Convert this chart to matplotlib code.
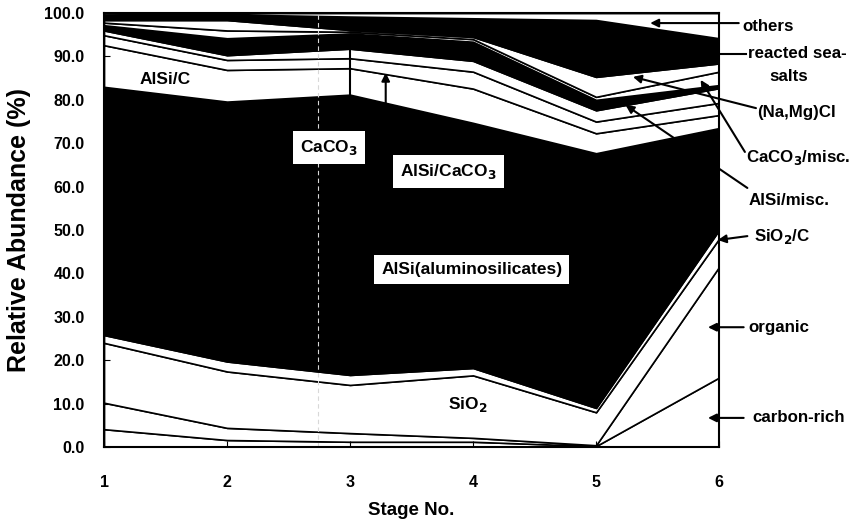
# Stacked relative abundance of particle classes by stage

import matplotlib.pyplot as plt
import numpy as np

plt.rcParams['font.family'] = ['Liberation Sans', 'DejaVu Sans']
plt.rcParams['font.weight'] = 'bold'

# ------ Data ------
stages = [1, 2, 3, 4, 5, 6]

# layer thickness (%), bottom to top
carbon_rich  = [4.1, 1.6, 1.2, 1.2, 0.2, 16.0]
organic      = [6.1, 2.8, 2.0, 0.9, 0.2, 25.5]
sio2         = [13.8, 13.0, 11.1, 14.4, 7.6, 6.5]
sio2_c       = [1.8, 2.3, 2.3, 1.7, 1.0, 2.0]
alsi         = [57.2, 59.9, 64.6, 56.5, 58.7, 23.5]
alsi_c       = [9.6, 7.3, 6.1, 7.9, 4.6, 3.0]
alsi_caco3   = [2.3, 2.3, 2.3, 3.9, 2.7, 2.8]
caco3        = [1.1, 1.1, 2.2, 2.5, 2.6, 3.4]
alsi_misc    = [1.2, 3.9, 3.5, 4.4, 2.4, 0.7]
caco3_misc   = [0.6, 1.8, 0.4, 0.6, 0.7, 3.1]
namgcl       = [0.6, 2.4, 0.4, 0.5, 4.6, 1.9]
reacted_salt = [1.2, 1.3, 3.1, 4.3, 13.1, 5.8]
others       = [0.4, 0.3, 0.8, 1.2, 1.6, 5.8]

layers = [carbon_rich, organic, sio2, sio2_c, alsi, alsi_c, alsi_caco3,
          caco3, alsi_misc, caco3_misc, namgcl, reacted_salt, others]
fills = ['white', 'white', 'white', 'white', 'black', 'white', 'white',
         'white', 'black', 'white', 'white', 'black', 'white']

ticks_y = np.arange(0, 101, 10)

fig = plt.figure(figsize=(8.54, 5.24), dpi=100)
ax = fig.add_axes([0.1218, 0.147, 0.7202, 0.828])

ax.stackplot(stages, *layers, colors=fills, edgecolor='black', linewidth=1.2)

# fold mark across the plot
ax.axvline(2.74, color='#d8d8d8', lw=0.8, ls=(0, (4, 3)))

ax.set_xlim(1, 6)
ax.set_ylim(0, 100)
ax.set_xticks(stages)
ax.set_yticks(ticks_y)
ax.set_yticklabels([f'{v:.1f}' for v in ticks_y])
ax.tick_params(axis='y', direction='in', length=4, pad=14, labelsize=11.5)
ax.tick_params(axis='x', direction='in', length=4, pad=20, labelsize=11.5)
for s in ax.spines.values():
    s.set_linewidth(1.5)

ax.set_xlabel('Stage No.', fontsize=13.5, fontweight='bold', labelpad=9)
ax.set_ylabel('Relative Abundance (%)', fontsize=18, fontweight='bold', labelpad=10)

# ------ labels inside the plot ------
box = dict(facecolor='white', edgecolor='none', pad=5)
ax.text(1.50, 84.8, 'AlSi/C', fontsize=12.5, ha='center', va='center')
ax.text(2.83, 69.1, 'CaCO$_\\mathbf{3}$', fontsize=12.5, ha='center', va='center', bbox=box)
ax.text(3.80, 63.4, 'AlSi/CaCO$_\\mathbf{3}$', fontsize=12.5, ha='center', va='center', bbox=box)
ax.text(3.99, 41.0, 'AlSi(aluminosilicates)', fontsize=12.5, ha='center', va='center', bbox=box)
ax.text(3.96, 9.7, 'SiO$_\\mathbf{2}$', fontsize=12.5, ha='center', va='center')

# pointers from the inside labels
ax.plot([3.0, 3.0], [73.0, 91.8], color='black', lw=1.5)
ax.annotate('', xy=(3.29, 86.9), xytext=(3.29, 66.5),
            arrowprops=dict(arrowstyle='-|>', color='black', lw=1.5, mutation_scale=12))

# ------ labels on the right ------
arrow = dict(arrowstyle='-|>', color='black', lw=1.5, mutation_scale=12,
             shrinkA=0, shrinkB=0)
right = [
    ('others',       (6.19, 96.8), (6.16, 97.7), (5.44, 97.7)),
    ('(Na,Mg)Cl',    (6.31, 77.2), (6.30, 78.1), (5.30, 85.3)),
    ('CaCO$_\\mathbf{3}$/misc.', (6.22, 66.8), (6.21, 68.0), (5.85, 84.6)),
    ('AlSi/misc.',   (6.24, 56.9), (6.23, 59.7), (5.24, 78.8)),
    ('SiO$_\\mathbf{2}$/C', (6.28, 48.6), (6.23, 48.6), (5.99, 47.7)),
    ('organic',      (6.24, 27.6), (6.20, 27.6), (5.91, 27.6)),
    ('carbon-rich',  (6.27, 6.7), (6.20, 6.7), (5.91, 6.7)),
]
for name, txt, tail, tip in right:
    ax.text(txt[0], txt[1], name, fontsize=12.2, ha='left', va='center', clip_on=False)
    ax.annotate('', xy=tip, xytext=tail, arrowprops=arrow, annotation_clip=False)

ax.text(6.64, 90.6, 'reacted sea-', fontsize=12.2, ha='center', va='center', clip_on=False)
ax.text(6.57, 85.3, 'salts', fontsize=12.2, ha='center', va='center', clip_on=False)
ax.plot([6.0, 6.22], [90.6, 90.6], color='black', lw=1.5, clip_on=False)

plt.savefig('out.png', dpi=100)
